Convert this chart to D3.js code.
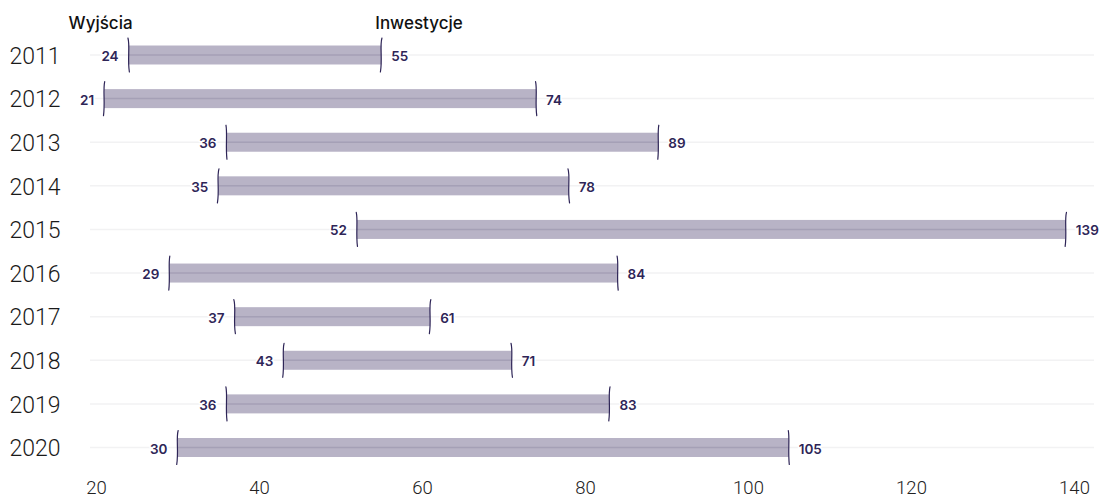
<!DOCTYPE html>
<html>
<head>
<meta charset="utf-8">
<script src="https://cdn.jsdelivr.net/npm/d3@7"></script>
<style>
  html, body { margin: 0; padding: 0; background: #fff; }
  svg { display: block; }
</style>
</head>
<body>
<svg id="chart" width="1104" height="499"></svg>
<script>
// Exits (left end) and investments (right end) per year
const years = ["2011", "2012", "2013", "2014", "2015", "2016", "2017", "2018", "2019", "2020"];
const exits = [24, 21, 36, 35, 52, 29, 37, 43, 36, 30];
const investments = [55, 74, 89, 78, 139, 84, 61, 71, 83, 105];
const xTickValues = [20, 40, 60, 80, 100, 120, 140];
const headerLeft = "Wyjścia";
const headerRight = "Inwestycje";

const rows = years.map((year, i) => ({ year, lo: exits[i], hi: investments[i], i }));

const svg = d3.select("#chart");

const x = d3.scaleLinear().domain([20, 140]).range([96, 1074]);
const y = d3.scalePoint().domain(years).range([55, 447.5]);

const barH = 19;
const ink = "#2e2557";

// faint row guide lines
svg.append("g")
  .selectAll("line")
  .data(rows)
  .join("line")
  .attr("x1", 90)
  .attr("x2", 1094)
  .attr("y1", d => y(d.year))
  .attr("y2", d => y(d.year))
  .attr("stroke", "#f2f2f3")
  .attr("stroke-width", 1.5);

// range bars
svg.append("g")
  .selectAll("rect")
  .data(rows)
  .join("rect")
  .attr("x", d => x(d.lo))
  .attr("y", d => y(d.year) - barH / 2)
  .attr("width", d => x(d.hi) - x(d.lo))
  .attr("height", barH)
  .attr("fill", "rgb(46,33,87)")
  .attr("fill-opacity", 0.34);

// guide line seen through each bar
svg.append("g")
  .selectAll("line")
  .data(rows)
  .join("line")
  .attr("x1", d => x(d.lo))
  .attr("x2", d => x(d.hi))
  .attr("y1", d => y(d.year))
  .attr("y2", d => y(d.year))
  .attr("stroke", "rgb(46,33,87)")
  .attr("stroke-opacity", 0.07)
  .attr("stroke-width", 1.5);

// sketchy end markers
const bends = [1.3, -1.1, 0.9, -1.4, 1.1, -0.9, 1.4, -1.2, 1.0, -1.3];
function marker(xv, yc, k) {
  const b = bends[k % bends.length];
  const t = yc - 17, bt = yc + 17;
  return `M${xv - 0.5 * b},${t} C${xv + 1.2 * b},${yc - 9} ${xv - 1.0 * b},${yc + 4} ${xv + 0.6 * b},${bt}`;
}
const ends = [];
rows.forEach(d => {
  ends.push({ v: d.lo, year: d.year, k: d.i });
  ends.push({ v: d.hi, year: d.year, k: d.i + 3 });
});
svg.append("g")
  .selectAll("path")
  .data(ends)
  .join("path")
  .attr("d", d => marker(x(d.v), y(d.year), d.k))
  .attr("fill", "none")
  .attr("stroke", ink)
  .attr("stroke-width", 1.2)
  .attr("stroke-linecap", "round");

// value labels
const labelStyle = sel => sel
  .attr("font-family", "Inter, 'Noto Sans', sans-serif")
  .attr("font-size", 13.5)
  .attr("font-weight", 600)
  .attr("fill", ink)
  .attr("dominant-baseline", "central")
  .attr("stroke", "#fff")
  .attr("stroke-width", 3)
  .attr("paint-order", "stroke");

svg.append("g")
  .selectAll("text")
  .data(rows)
  .join("text")
  .attr("x", d => x(d.lo) - 10)
  .attr("y", d => y(d.year) + 1)
  .attr("text-anchor", "end")
  .text(d => d.lo)
  .call(labelStyle);

svg.append("g")
  .selectAll("text")
  .data(rows)
  .join("text")
  .attr("x", d => x(d.hi) + 10)
  .attr("y", d => y(d.year) + 1)
  .attr("text-anchor", "start")
  .text(d => d.hi)
  .call(labelStyle);

// column headers, anchored to the first row's ends
const first = rows[0];
const headerStyle = sel => sel
  .attr("font-family", "Inter, sans-serif")
  .attr("font-size", 17)
  .attr("font-weight", 500)
  .attr("fill", "#111");
svg.append("text")
  .attr("x", x(first.lo) + 4)
  .attr("y", 29)
  .attr("text-anchor", "end")
  .text(headerLeft)
  .call(headerStyle);
svg.append("text")
  .attr("x", x(first.hi) - 6)
  .attr("y", 29)
  .attr("text-anchor", "start")
  .text(headerRight)
  .call(headerStyle);

// year axis
const yAxis = svg.append("g")
  .call(d3.axisLeft(y).tickSize(0).tickPadding(0));
yAxis.select(".domain").remove();
yAxis.selectAll("text")
  .attr("x", 35)
  .attr("dy", "0.36em")
  .attr("text-anchor", "middle")
  .attr("font-family", "Roboto, sans-serif")
  .attr("font-size", 23)
  .attr("font-weight", 300)
  .attr("fill", "#1a1a1a");

// value axis
const xAxis = svg.append("g")
  .attr("transform", "translate(0,477.5)")
  .call(d3.axisBottom(x).tickValues(xTickValues).tickSize(0).tickPadding(3));
xAxis.select(".domain").remove();
xAxis.selectAll("text")
  .attr("font-family", "Roboto, sans-serif")
  .attr("font-size", 18.5)
  .attr("font-weight", 300)
  .attr("fill", "#222");
</script>
</body>
</html>
